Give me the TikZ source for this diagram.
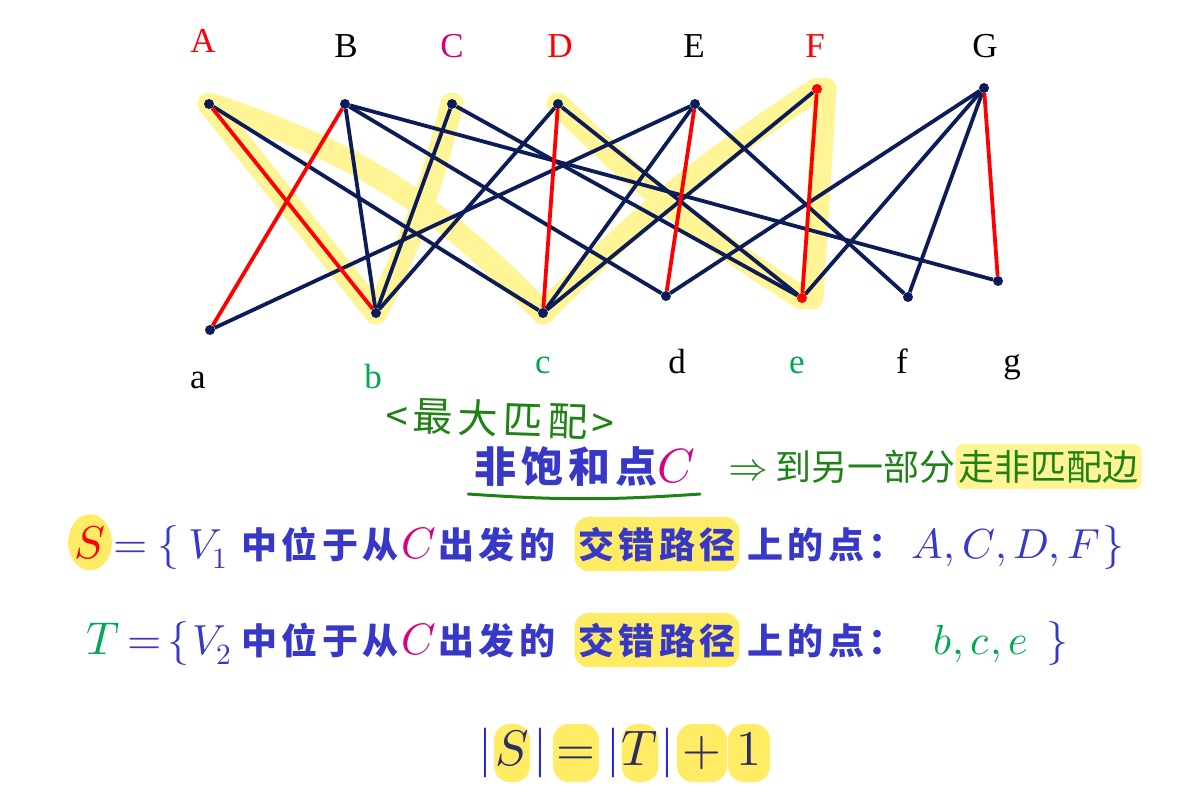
\documentclass[tikz,border=0pt]{standalone}
\usepackage{fontspec}
\usepackage{unicode-math}
\setmainfont{Liberation Serif}
\newfontfamily\cjk{Noto Sans CJK SC}
\newfontfamily\cjkb{Noto Sans CJK SC}[LetterSpace=12]
\usetikzlibrary{positioning,shapes.geometric,backgrounds}
\newcommand\fsz[1]{\fontsize{#1}{#1}\selectfont}
\definecolor{navy}{RGB}{12,28,88}
\definecolor{mag}{RGB}{214,0,130}
\definecolor{lgreen}{RGB}{0,168,80}
\definecolor{pengreen}{RGB}{30,130,20}
\definecolor{txtblue}{RGB}{55,55,200}
\definecolor{barblue}{RGB}{35,35,225}
\definecolor{ink}{RGB}{45,45,95}
\definecolor{hlyellow}{RGB}{255,236,100}
\definecolor{penyellow}{RGB}{255,244,150}
\tikzset{
  vdot/.style={circle, fill=navy, inner sep=0pt, minimum size=10pt},
  edge/.style={navy, line width=3.8pt},
  medge/.style={red, line width=3.8pt},
  hlpen/.style={penyellow, line width=23pt, line cap=round, line join=round},
  vlbl/.style={font=\fsz{35}, anchor=base, inner sep=0pt},
  txt/.style={txtblue, anchor=base, inner sep=0pt, font=\fsz{44}},
  ztxt/.style={txtblue, anchor=base, inner sep=0pt, font=\cjkb\bfseries\fsz{36}},
  hlbox/.style={fill=hlyellow, rounded corners=14pt, inner xsep=4pt, minimum height=54pt},
  pen/.style={pengreen, anchor=base, inner sep=0pt, font=\cjk\fsz{36}},
  eqtxt/.style={ink, anchor=base, inner sep=0pt, font=\fsz{50}},
  eqbox/.style={fill=hlyellow, rounded corners=16pt, text height=36pt, text depth=12pt,
                inner ysep=5pt, inner xsep=0pt},
}
\begin{document}
\begin{tikzpicture}[x=1pt,y=-1pt]
\useasboundingbox (0,0) rectangle (1185,803);

% vertices of the two parts
\foreach \n/\x/\y in {A/209/104, B/345/104, C/452/104, D/558/104, E/695/104, G/984/88,
                      a/210/330, b/376/313, c/543/313, d/666/296, f/908/297, g/998/281}
  \node[vdot] (\n) at (\x,\y) {};
\node[vdot, fill=red] (F) at (817,89) {};
\node[vdot, fill=red] (e) at (802,298) {};

% labels
\node[vlbl, red] (lA) at (203,52) {A};
\node[vlbl] (lB) at (346,57) {B};
\node[vlbl, mag] (lC) at (452,57) {C};
\node[vlbl, red] (lD) at (560,57) {D};
\node[vlbl] (lE) at (694,57) {E};
\node[vlbl, red] (lF) at (815,57) {F};
\node[vlbl] (lG) at (985,57) {G};
\node[vlbl] (la) at (198,388) {a};
\node[vlbl, lgreen] (lb) at (373,388) {b};
\node[vlbl, lgreen] (lc) at (543,373) {c};
\node[vlbl] (ld) at (677,373) {d};
\node[vlbl, lgreen] (le) at (797,373) {e};
\node[vlbl] (lf) at (902,373) {f};
\node[vlbl] (lg) at (1012,372) {g};

% edges
\foreach \u/\v in {A/c, B/b, B/d, B/g, C/b, C/e, D/b, D/e, E/a, E/c, E/f, F/c, G/d, G/e, G/f}
  \draw[edge] (\u) -- (\v);
% matching
\foreach \u/\v in {A/b, B/a, D/c, E/d, F/e, G/g}
  \draw[medge] (\u) -- (\v);

% alternating paths from C
\begin{scope}[on background layer]
  \draw[hlpen] (A.center) -- (b.center);
  \draw[hlpen] (A.center) to[bend left=14] (c.center);
  \draw[hlpen] (C.center) to[bend left=6] (b.center);
  \draw[hlpen] (D.center) to[bend right=6] (e.center);
  \draw[hlpen] (c.center) to[bend left=6] (F.center);
  \draw[hlpen] ([xshift=8pt]F.center) -- ([xshift=10pt]e.center);
\end{scope}

% notes
\node[pen, rotate=-2, font=\cjkb\fsz{40}] (maxm) at (500,434) {<最大匹配>};
\node[ztxt, font=\cjkb\bfseries\fsz{42}] (unsat) at (566,482) {非饱和点};
\node[txt, mag, anchor=base west, font=\fsz{48}] (uC) at (unsat.base east) {$C$};
\draw[pengreen, line width=3pt, line cap=round]
  ([shift={(-6,12)}]unsat.base west) to[bend right=4] ([shift={(4,12)}]uC.base east);
\node[pen, font=\fsz{40}] (impl) at (748,480) {$\Rightarrow$};
\node[pen, anchor=base west] (goal1) at (775,480) {到另一部分};
\node[pen, anchor=base west, fill=penyellow, inner xsep=3pt, inner ysep=6pt, rounded corners=8pt]
  (goal2) at (goal1.base east) {走非匹配边};

% S
\node[ellipse, fill=hlyellow, minimum width=40pt, minimum height=56pt, inner sep=0pt,
      anchor=base, font=\fsz{46}] (sS) at (90,558) {\color{red}$S$};
\node[txt] (eq1) at (131,558) {$=$};
\node[txt] (lb1) at (168,558) {$\{$};
\node[txt, font=\fsz{42}] (v1) at (208,558) {$V_1$};
\node[ztxt] (z1) at (320,558) {中位于从};
\node[txt, mag] (c1) at (419,558) {$C$};
\node[ztxt] (z2) at (497,558) {出发的};
\node[ztxt, hlbox] (z3) at (657,558) {交错路径};
\node[ztxt] (z4) at (826,558) {上的点：};
\node[txt, font=\fsz{42}] (set1) at (1006,558) {$A, C, D, F$};
\node[txt] (rb1) at (1113,558) {$\}$};

% T
\node[txt, lgreen, font=\fsz{46}] (tT) at (103,654) {$T$};
\node[txt] (eq2) at (145,654) {$=$};
\node[txt] (lb2) at (178,654) {$\{$};
\node[txt, font=\fsz{42}] (v2) at (212,654) {$V_2$};
\node[ztxt] (z5) at (320,654) {中位于从};
\node[txt, mag] (c2) at (419,654) {$C$};
\node[ztxt] (z6) at (497,654) {出发的};
\node[ztxt, hlbox] (z7) at (657,654) {交错路径};
\node[ztxt] (z8) at (826,654) {上的点：};
\node[txt, lgreen, font=\fsz{42}] (set2) at (981,654) {$b, c, e$};
\node[txt] (rb2) at (1057,654) {$\}$};

% |S| = |T| + 1
\node[eqtxt, eqbox, minimum width=36pt] (eS) at (512,765) {$S$};
\node[eqtxt, eqbox, minimum width=46pt] (eEq) at (576,765) {$=$};
\node[eqtxt, eqbox, minimum width=34pt] (eT) at (640,765) {$T$};
\node[eqtxt, eqbox, minimum width=50pt] (ePlus) at (702,765) {$+$};
\node[eqtxt, eqbox, minimum width=42pt] (eOne) at (749,765) {$1$};
\foreach \x/\k in {485/1, 540/2, 613/3, 667/4}
  \node[eqtxt, barblue] (bar\k) at (\x,765) {$|$};
\end{tikzpicture}
\end{document}
